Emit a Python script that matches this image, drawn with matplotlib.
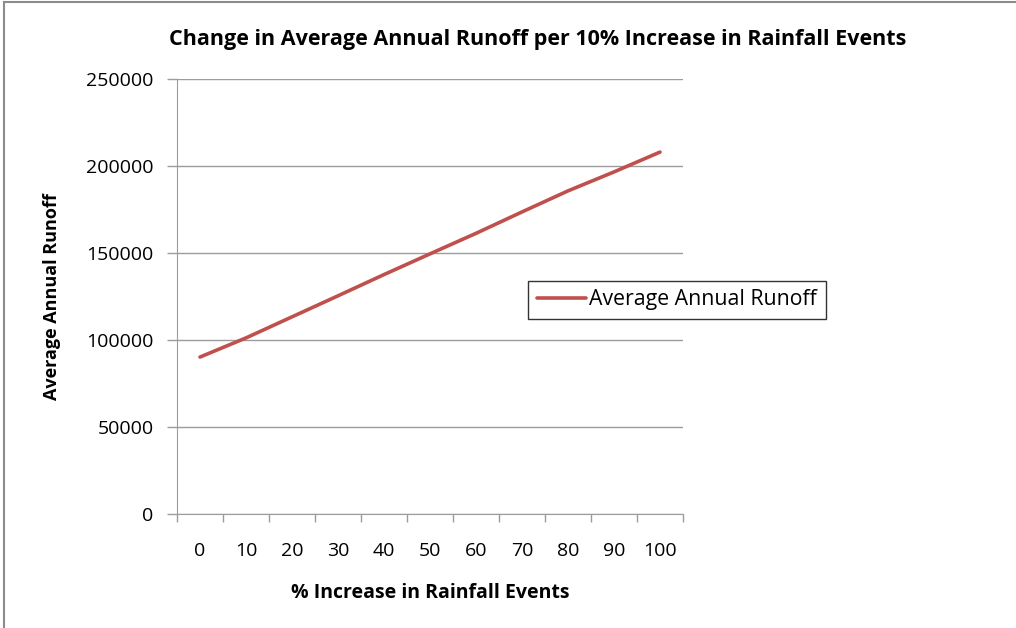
import matplotlib
matplotlib.use('Agg')
import matplotlib.pyplot as plt
from matplotlib.lines import Line2D
import numpy as np

# % increase in rainfall events (categories) and average annual runoff
pct_increase = [0, 10, 20, 30, 40, 50, 60, 70, 80, 90, 100]
runoff = [90200, 101200, 113300, 125400, 137600, 149500,
          161300, 173600, 185700, 196600, 208000]
yticks = [0, 50000, 100000, 150000, 200000, 250000]

FONT = 'Open Sans'
RED = '#C0504D'
GRID = '#9c9c9c'

fig = plt.figure(figsize=[10.16, 6.28], dpi=100)
ax = fig.add_axes([177 / 1016, 1 - 514 / 628, 506 / 1016, 435 / 628])

x = np.arange(len(pct_increase))
ax.plot(x, runoff, color=RED, lw=2.6, solid_capstyle='round',
        label='Average Annual Runoff')

ax.set_xlim(-0.5, len(pct_increase) - 0.5)
ax.set_ylim(0, 250000)

# category labels in the middle, tick marks between categories
ax.set_xticks(x)
ax.set_xticklabels([str(v) for v in pct_increase], fontname=FONT, fontsize=14)
ax.set_xticks(np.arange(len(pct_increase) + 1) - 0.5, minor=True)
ax.tick_params(axis='x', which='major', length=0, pad=20)
ax.tick_params(axis='x', which='minor', length=6, color=GRID, width=1)

ax.set_yticks(yticks)
ax.set_yticklabels([str(v) for v in yticks], fontname=FONT, fontsize=14)
ax.tick_params(axis='y', length=7, color=GRID, width=1, pad=10)
ax.yaxis.grid(True, color=GRID, lw=1)
ax.set_axisbelow(True)

for side in ['top', 'right']:
    ax.spines[side].set_visible(False)
ax.spines['left'].set_color(GRID)
ax.spines['bottom'].set_color(GRID)

ax.set_xlabel('% Increase in Rainfall Events', fontname=FONT, fontsize=14,
              fontweight='bold', labelpad=17)
ax.set_ylabel('Average Annual Runoff', fontname=FONT, fontsize=13,
              fontweight='bold', labelpad=18)
fig.text(538 / 1016, 1 - 40 / 628,
         'Change in Average Annual Runoff per 10% Increase in Rainfall Events',
         ha='center', va='center', fontname=FONT, fontsize=15.5, fontweight='bold')

leg = fig.legend(loc='center left', bbox_to_anchor=(528 / 1016, 1 - 300 / 628),
                 prop={'family': FONT, 'size': 15.3}, frameon=True, fancybox=False,
                 handlelength=2.3, handletextpad=0.15, borderpad=0.42,
                 borderaxespad=0)
leg.get_frame().set_edgecolor('black')
leg.get_frame().set_linewidth(1)

# chart border (only left and top edges visible in the crop)
fig.add_artist(Line2D([4 / 1016, 4 / 1016], [0, 1 - 2 / 628], color='#8c8c8c',
                      lw=1.5, transform=fig.transFigure))
fig.add_artist(Line2D([4 / 1016, 1], [1 - 2 / 628, 1 - 2 / 628], color='#8c8c8c',
                      lw=1.5, transform=fig.transFigure))

fig.savefig('out.png', dpi=100)
